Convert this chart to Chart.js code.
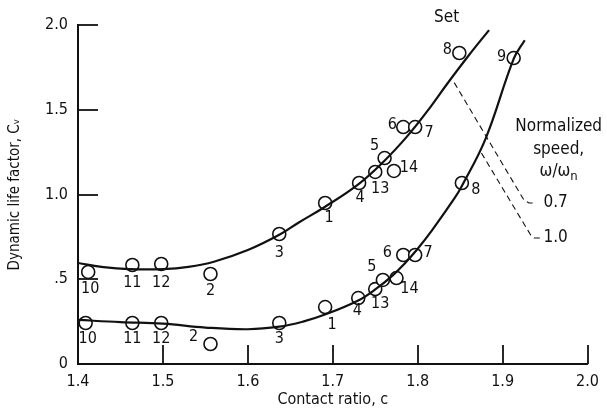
<!DOCTYPE html>
<html><head><meta charset="utf-8">
<script src="https://cdn.jsdelivr.net/npm/chart.js@4"></script>
<style>html,body{margin:0;padding:0;background:#fff;} canvas{display:block;}</style>
</head><body>
<canvas id="c" width="607" height="413"></canvas>
<script>
const FONT = '"Liberation Sans Narrow", "DejaVu Sans Condensed", sans-serif';
const INK = '#111';

// Measured sets, normalized speed 0.7 (upper curve)
const setLabelsUpper = ['10','11','12','2','3','1','4','13','5','14','6','7','8'];
const contactUpper = [1.412,1.464,1.498,1.556,1.637,1.691,1.731,1.750,1.761,1.772,1.783,1.797,1.849];
const cvUpper      = [0.543,0.584,0.590,0.531,0.767,0.950,1.068,1.133,1.215,1.139,1.398,1.398,1.835];

// Measured sets, normalized speed 1.0 (lower curve)
const setLabelsLower = ['10','11','12','2','3','1','4','13','5','14','6','7','8','9'];
const contactLower = [1.409,1.464,1.498,1.556,1.637,1.691,1.730,1.750,1.759,1.775,1.783,1.797,1.852,1.913];
const cvLower      = [0.242,0.242,0.242,0.118,0.242,0.336,0.389,0.442,0.496,0.507,0.643,0.643,1.068,1.805];

// Fitted curves
const curveUpperX = [1.40,1.43,1.46,1.50,1.53,1.56,1.60,1.637,1.66,1.69,1.73,1.76,1.787,1.811,1.835,1.86,1.884];
const curveUpperY = [0.596,0.572,0.56,0.56,0.573,0.603,0.672,0.762,0.835,0.925,1.06,1.195,1.34,1.49,1.655,1.82,1.97];
const curveLowerX = [1.40,1.45,1.50,1.55,1.60,1.637,1.665,1.69,1.73,1.75,1.77,1.785,1.80,1.817,1.843,1.852,1.88,1.913,1.926];
const curveLowerY = [0.26,0.247,0.238,0.215,0.205,0.22,0.25,0.29,0.375,0.44,0.52,0.595,0.68,0.79,0.975,1.05,1.33,1.80,1.91];

// Leader lines to the speed labels
const leaderUpperX = [1.843,1.925,1.931,1.940];
const leaderUpperY = [1.66,0.968,0.95,0.95];
const leaderLowerX = [1.875,1.933,1.937,1.945];
const leaderLowerY = [1.245,0.761,0.743,0.743];

const xTickLabels = ['1.4','1.5','1.6','1.7','1.8','1.9','2.0'];
const yTickLabels = ['0','.5','1.0','1.5','2.0'];
const speedLabels = ['0.7','1.0'];

// label offsets in pixels (placement only)
const labelOffsetsUpper = [[2,17],[0,18],[0,19],[0,17],[0,19],[4,15],[1,15],[5,17],[-10,-12],[15,-3],[-11,-2],[14,6],[-12,-3]];
const labelOffsetsLower = [[2,16],[0,16],[0,16],[-17,-7],[0,16],[7,18],[-1,13],[5,15],[-11,-13],[13,11],[-16,-2],[13,-2],[14,7],[-12,-1]];

const zip = (xs, ys) => xs.map((x, i) => ({x, y: ys[i]}));

const annot = {
  id: 'annot',
  afterDraw(chart) {
    const {ctx, chartArea: a, scales: {x, y}} = chart;
    ctx.save();
    // inward tick marks
    ctx.strokeStyle = INK; ctx.lineWidth = 1.8;
    [0.5, 1.0, 1.5, 2.0].forEach(v => {
      const py = Math.round(y.getPixelForValue(v));
      ctx.beginPath(); ctx.moveTo(a.left, py); ctx.lineTo(a.left + 20, py); ctx.stroke();
    });
    [1.5, 1.6, 1.7, 1.8, 1.9, 2.0].forEach(v => {
      const px = Math.round(x.getPixelForValue(v));
      ctx.beginPath(); ctx.moveTo(px, a.bottom); ctx.lineTo(px, a.bottom - 19); ctx.stroke();
    });
    // set labels
    ctx.fillStyle = INK;
    ctx.font = '16px ' + FONT;
    ctx.textAlign = 'center'; ctx.textBaseline = 'middle';
    const drawSet = (xs, ys, labs, offs) => labs.forEach((t, i) => {
      ctx.fillText(t, x.getPixelForValue(xs[i]) + offs[i][0], y.getPixelForValue(ys[i]) + offs[i][1]);
    });
    drawSet(contactUpper, cvUpper, setLabelsUpper, labelOffsetsUpper);
    drawSet(contactLower, cvLower, setLabelsLower, labelOffsetsLower);
    // headings
    ctx.font = '17px ' + FONT;
    ctx.fillText('Set', x.getPixelForValue(1.834), y.getPixelForValue(2.041));
    const cx = x.getPixelForValue(1.966);
    ctx.fillText('Normalized', cx, y.getPixelForValue(1.398));
    ctx.fillText('speed,', cx, y.getPixelForValue(1.263));
    const wy = y.getPixelForValue(1.133);
    const w1 = ctx.measureText('ω/ω').width;
    ctx.font = '13px ' + FONT;
    const w2 = ctx.measureText('n').width;
    ctx.font = '17px ' + FONT;
    ctx.textAlign = 'left';
    ctx.fillText('ω/ω', cx - (w1 + w2) / 2, wy);
    ctx.font = '13px ' + FONT;
    ctx.fillText('n', cx - (w1 + w2) / 2 + w1, wy + 5);
    ctx.font = '17px ' + FONT;
    ctx.fillText(speedLabels[0], x.getPixelForValue(1.948), y.getPixelForValue(0.95));
    ctx.fillText(speedLabels[1], x.getPixelForValue(1.948), y.getPixelForValue(0.743));
    ctx.restore();
  }
};

const circleStyle = {
  showLine: false, pointRadius: 6.5, pointHoverRadius: 6.5,
  pointBackgroundColor: '#fff', pointBorderColor: INK, pointBorderWidth: 1.6
};
const lineStyle = {
  showLine: true, pointRadius: 0, borderColor: INK, borderWidth: 2.2,
  tension: 0.4, fill: false
};

new Chart(document.getElementById('c'), {
  type: 'scatter',
  data: {
    datasets: [
      {label: 'curve 0.7', data: zip(curveUpperX, curveUpperY), ...lineStyle},
      {label: 'curve 1.0', data: zip(curveLowerX, curveLowerY), ...lineStyle},
      {label: 'leader 0.7', data: zip(leaderUpperX, leaderUpperY), showLine: true, pointRadius: 0, borderColor: INK, borderWidth: 1.1, borderDash: [6, 4], tension: 0},
      {label: 'leader 1.0', data: zip(leaderLowerX, leaderLowerY), showLine: true, pointRadius: 0, borderColor: INK, borderWidth: 1.1, borderDash: [6, 4], tension: 0},
      {label: 'sets 0.7', data: zip(contactUpper, cvUpper), ...circleStyle},
      {label: 'sets 1.0', data: zip(contactLower, cvLower), ...circleStyle}
    ]
  },
  options: {
    responsive: false, animation: false, devicePixelRatio: 1,
    layout: {padding: {left: 0, top: 25, right: 15, bottom: 0}},
    plugins: {legend: {display: false}, tooltip: {enabled: false}},
    scales: {
      x: {
        type: 'linear', min: 1.4, max: 2.0,
        grid: {display: false, drawTicks: false},
        border: {display: true, color: INK, width: 2},
        ticks: {stepSize: 0.1, padding: 8, color: INK, font: {family: FONT, size: 16},
          callback: v => xTickLabels[Math.round((v - 1.4) * 10)]},
        title: {display: true, text: 'Contact ratio, c', color: INK, font: {family: FONT, size: 16}, padding: {top: 0, bottom: 4}},
        afterFit: s => { s.height = 49; }
      },
      y: {
        type: 'linear', min: 0, max: 2.0,
        grid: {display: false, drawTicks: false},
        border: {display: true, color: INK, width: 2},
        ticks: {stepSize: 0.5, padding: 10, color: INK, font: {family: FONT, size: 16},
          callback: v => yTickLabels[Math.round(v * 2)]},
        title: {display: true, text: 'Dynamic life factor, Cᵥ', color: INK, font: {family: FONT, size: 15}, padding: {top: 6, bottom: 0}},
        afterFit: s => { s.width = 78; }
      }
    }
  },
  plugins: [annot]
});
</script>
</body></html>
